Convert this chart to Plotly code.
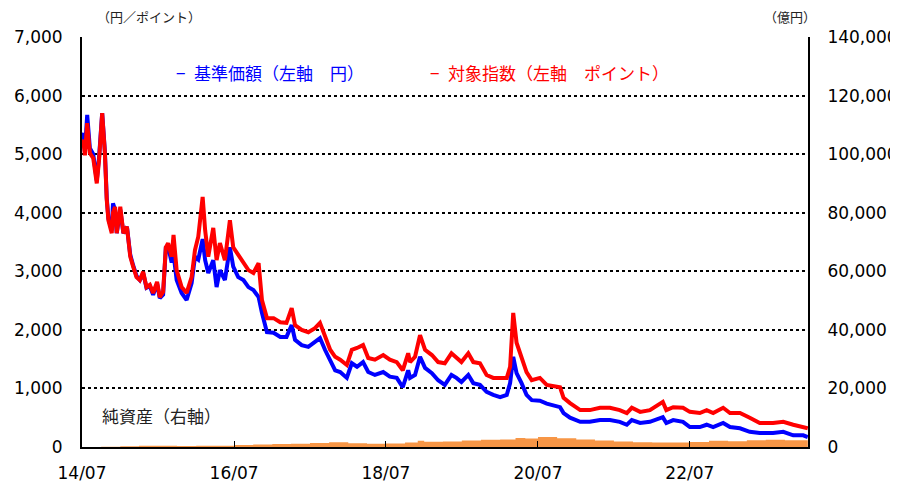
import plotly.graph_objects as go

# ---- data ----
line_dates = [
    "2014-07-01", "2014-07-07", "2014-07-15", "2014-07-26", "2014-08-08", "2014-08-24",
    "2014-09-10", "2014-09-21", "2014-10-06", "2014-10-19", "2014-10-28", "2014-11-05",
    "2014-11-21", "2014-11-27", "2014-12-07", "2014-12-15", "2015-01-01", "2015-01-16",
    "2015-02-02", "2015-02-18", "2015-03-04", "2015-03-20", "2015-04-05", "2015-04-21",
    "2015-05-07", "2015-05-23", "2015-06-08", "2015-06-27", "2015-07-10", "2015-07-26",
    "2015-08-08", "2015-08-19", "2015-09-05", "2015-09-14", "2015-09-29", "2015-10-23",
    "2015-11-16", "2015-12-10", "2015-12-26", "2016-01-11", "2016-02-01", "2016-02-13",
    "2016-02-28", "2016-03-23", "2016-04-08", "2016-04-24", "2016-05-18", "2016-06-11",
    "2016-06-27", "2016-07-21", "2016-08-15", "2016-09-08", "2016-10-02", "2016-10-27",
    "2016-11-12", "2016-11-28", "2016-12-06", "2017-01-07", "2017-02-08", "2017-03-10",
    "2017-04-04", "2017-04-20", "2017-05-22", "2017-06-23", "2017-07-25", "2017-08-18",
    "2017-09-11", "2017-10-06", "2017-10-30", "2017-11-23", "2017-12-25", "2018-01-18",
    "2018-02-12", "2018-03-13", "2018-04-07", "2018-05-09", "2018-06-18", "2018-07-20",
    "2018-08-22", "2018-09-20", "2018-10-16", "2018-10-25", "2018-11-18", "2018-12-12",
    "2019-01-05", "2019-02-07", "2019-03-09", "2019-04-10", "2019-05-12", "2019-06-05",
    "2019-06-29", "2019-08-01", "2019-08-25", "2019-09-26", "2019-10-28", "2019-11-29",
    "2020-01-01", "2020-02-02", "2020-02-18", "2020-03-04", "2020-03-20", "2020-04-13",
    "2020-05-07", "2020-06-01", "2020-07-10", "2020-08-12", "2020-09-29", "2020-10-15",
    "2020-11-01", "2020-12-02", "2021-01-20", "2021-03-07", "2021-04-25", "2021-06-12",
    "2021-07-29", "2021-09-01", "2021-09-25", "2021-11-04", "2021-12-21", "2022-01-15",
    "2022-02-21", "2022-03-10", "2022-04-12", "2022-05-29", "2022-07-01", "2022-08-18",
    "2022-09-20", "2022-10-21", "2022-12-08", "2023-01-10", "2023-02-27", "2023-04-15",
    "2023-06-02", "2023-08-05", "2023-09-23", "2023-11-10", "2023-12-28", "2024-01-19",
]

nav_yen = [  # 基準価額 (blue)
    5300, 5360, 5050, 5670, 5100, 5000,
    4550, 4950, 5700, 5050, 4250, 3900,
    3700, 4160, 4050, 3650, 4050, 3650,
    3760, 3280, 3100, 2920, 2850, 2970,
    2720, 2750, 2600, 2790, 2540, 2600,
    3400, 3420, 3150, 3300, 2850, 2630,
    2510, 2800, 3250, 3200, 3550, 3190,
    2970, 3190, 2730, 3020, 2850, 3410,
    3080, 2900, 2850, 2730, 2680, 2560,
    2290, 2100, 1960, 1950, 1880, 1880,
    2080, 1830, 1740, 1710, 1790, 1860,
    1660, 1490, 1310, 1280, 1180, 1430,
    1370, 1450, 1280, 1230, 1280, 1200,
    1180, 1020, 1310, 1180, 1230, 1540,
    1350, 1260, 1140, 1060, 1230, 1180,
    1110, 1230, 1090, 1060, 940, 890,
    850, 890, 1090, 1540, 1260, 1090,
    890, 800, 790, 740, 690, 680,
    580, 500, 430, 430, 460, 460,
    430, 380, 460, 410, 430, 460,
    510, 410, 460, 430, 340, 340,
    380, 340, 410, 340, 320, 260,
    240, 240, 260, 200, 200, 170,
]

index_pt = [  # 対象指数 (red)
    5200, 5240, 4980, 5530, 5020, 4930,
    4500, 4900, 5700, 5020, 4220, 3870,
    3650, 4000, 4100, 3650, 4100, 3650,
    3760, 3250, 3080, 2900, 2850, 2990,
    2730, 2770, 2630, 2820, 2560, 2650,
    3410, 3480, 3250, 3620, 3020, 2730,
    2630, 2900, 3360, 3590, 4270, 3700,
    3250, 3740, 3190, 3480, 3190, 3870,
    3410, 3280, 3140, 3020, 2970, 3140,
    2510, 2290, 2200, 2200, 2130, 2120,
    2370, 2080, 2000, 1960, 2030, 2120,
    1880, 1660, 1540, 1490, 1400, 1660,
    1690, 1740, 1520, 1490, 1570, 1490,
    1450, 1310, 1600, 1450, 1540, 1910,
    1660, 1570, 1450, 1430, 1600, 1520,
    1450, 1600, 1450, 1430, 1230, 1180,
    1180, 1180, 1370, 2290, 1780, 1540,
    1280, 1140, 1180, 1060, 1030, 1020,
    840, 750, 630, 630, 670, 670,
    630, 580, 670, 600, 630, 680,
    770, 630, 680, 670, 600, 580,
    630, 580, 670, 580, 580, 500,
    410, 410, 430, 380, 340, 320,
]

asset_dates = [
    "2014-07-01", "2014-10-01", "2015-01-01", "2015-04-01", "2015-07-01", "2015-10-01",
    "2016-01-01", "2016-04-01", "2016-07-01", "2016-10-01", "2017-01-01", "2017-04-01",
    "2017-07-01", "2017-10-01", "2018-01-01", "2018-04-01", "2018-07-01", "2018-10-01",
    "2018-12-01", "2019-01-01", "2019-04-01", "2019-07-01", "2019-10-01", "2020-01-01",
    "2020-03-15", "2020-05-01", "2020-07-01", "2020-10-01", "2021-01-01", "2021-04-01",
    "2021-07-01", "2021-10-01", "2022-01-01", "2022-04-01", "2022-07-01", "2022-10-01",
    "2023-01-01", "2023-04-01", "2023-07-01", "2023-10-01", "2024-01-19",
]
net_assets_oku = [  # 純資産 (億円, right axis)
    0, 50, 250, 400, 450, 350,
    400, 450, 650, 850, 1000, 1100,
    1400, 1600, 1300, 1100, 1200, 1500,
    2100, 1800, 1900, 2200, 2500, 2600,
    3100, 2900, 3400, 3000, 2600, 2200,
    1900, 1600, 1500, 1500, 1700, 2100,
    2000, 2300, 2500, 2300, 1900,
]

x_tick_vals = ["2014-07-01", "2016-07-01", "2018-07-01", "2020-07-01", "2022-07-01"]
x_tick_text = ["14/07", "16/07", "18/07", "20/07", "22/07"]

BLUE = "#0000FF"
RED = "#FF0000"
ORANGE = "#F79646"
TICKFONT = dict(family="DejaVu Sans, Verdana, sans-serif", size=17, color="#000000")
JP = "Noto Sans CJK JP, sans-serif"

# page offset: the html body has an 8px margin
OFF = 8
PL, PR, PT, PB = 82, 808, 37, 447  # plot area in page pixels

fig = go.Figure()

fig.add_trace(go.Scatter(
    x=asset_dates, y=net_assets_oku, yaxis="y2", mode="lines",
    line=dict(width=0, color=ORANGE, shape="hv"), fill="tozeroy", fillcolor=ORANGE,
    showlegend=False, hoverinfo="skip",
))
fig.add_trace(go.Scatter(
    x=line_dates, y=nav_yen, mode="lines",
    line=dict(color=BLUE, width=4), showlegend=False,
))
fig.add_trace(go.Scatter(
    x=line_dates, y=index_pt, mode="lines",
    line=dict(color=RED, width=4), showlegend=False,
))

W, H = 898 - OFF, 486 - OFF
fig.update_layout(
    width=W, height=H,
    margin=dict(l=PL - OFF, r=W - (PR - OFF), t=PT - OFF, b=H - (PB - OFF), autoexpand=False),
    paper_bgcolor="white", plot_bgcolor="white",
    xaxis=dict(
        type="date", range=["2014-07-01", "2024-01-20"],
        tickmode="array", tickvals=x_tick_vals, ticktext=x_tick_text,
        ticks="inside", ticklen=6, tickwidth=1, tickcolor="#000000",
        showgrid=False, showline=True, linecolor="#000000", linewidth=2,
        tickfont=TICKFONT, zeroline=False, ticklabelstandoff=10, automargin=False,
    ),
    yaxis=dict(
        range=[0, 7000], dtick=1000, tickformat=",d",
        showgrid=True, gridcolor="#000000", gridwidth=2, griddash="dot",
        showline=True, linecolor="#000000", linewidth=2, zeroline=False,
        ticks="", tickfont=TICKFONT, ticklabelstandoff=14, automargin=False,
    ),
    yaxis2=dict(
        range=[0, 140000], dtick=20000, tickformat=",d",
        overlaying="y", side="right", showgrid=False,
        showline=True, linecolor="#000000", linewidth=2, zeroline=False,
        ticks="", tickfont=TICKFONT, ticklabelstandoff=14, automargin=False,
    ),
    showlegend=False,
)

annotations = [
    dict(text="（円／ポイント）", x=95, y=17, xanchor="left", font=dict(size=13, color="#222222", family=JP)),
    dict(text="（億円）", x=818, y=17, xanchor="right", font=dict(size=13, color="#222222", family=JP)),
    dict(text="−\u2002基準価額（左軸　円）", x=174, y=73, xanchor="left", font=dict(size=17, color=BLUE, family=JP)),
    dict(text="−\u2002対象指数（左軸　ポイント）", x=428, y=73, xanchor="left", font=dict(size=17, color=RED, family=JP)),
    dict(text="純資産（右軸）", x=100, y=415, xanchor="left", font=dict(size=17, color="#222222", family=JP)),
]
for a in annotations:
    fig.add_annotation(
        text=a["text"], xref="paper", yref="paper",
        x=(a["x"] - PL) / (PR - PL),
        y=(PB - a["y"]) / (PB - PT),
        xanchor=a["xanchor"], yanchor="middle", showarrow=False, font=a["font"],
    )

fig.write_html("out.html")
